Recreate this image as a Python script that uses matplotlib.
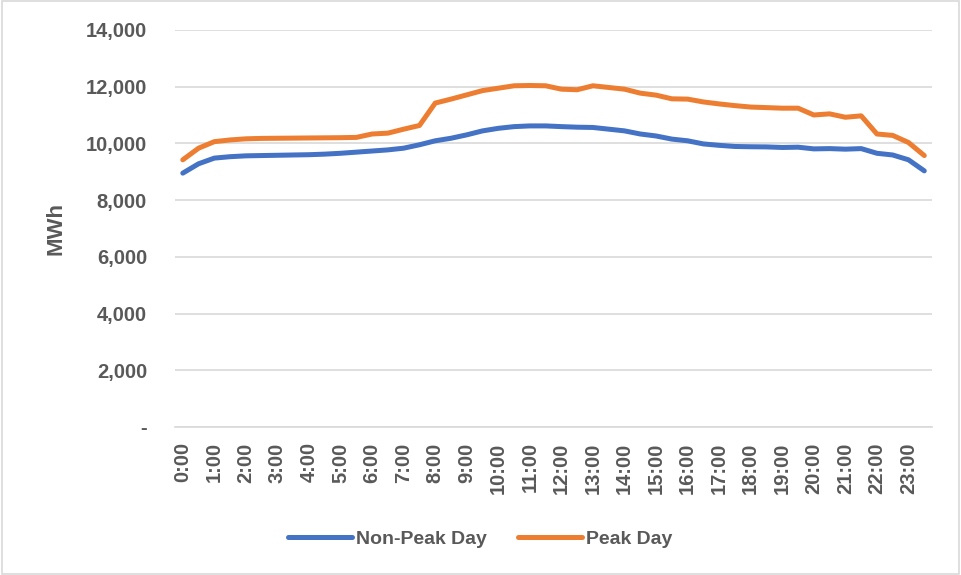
import matplotlib.pyplot as plt
from matplotlib.patches import Rectangle
from matplotlib.ticker import FuncFormatter

# half-hourly load, MWh
times = ["%d:%02d" % (h, m) for h in range(24) for m in (0, 30)]
non_peak = [8950, 9280, 9480, 9530, 9560, 9570, 9580, 9590, 9600, 9620,
            9650, 9690, 9730, 9770, 9830, 9950, 10090, 10180, 10300, 10440,
            10530, 10590, 10615, 10615, 10590, 10570, 10560, 10500, 10440, 10330,
            10260, 10150, 10090, 9980, 9930, 9890, 9880, 9875, 9855, 9865,
            9805, 9815, 9795, 9815, 9650, 9590, 9420, 9030]
peak = [9420, 9830, 10060, 10120, 10160, 10175, 10180, 10185, 10190, 10195,
        10200, 10210, 10330, 10360, 10500, 10630, 11420, 11560, 11710, 11860,
        11945, 12030, 12040, 12030, 11910, 11890, 12030, 11970, 11910, 11770,
        11700, 11570, 11560, 11460, 11390, 11330, 11280, 11260, 11240, 11240,
        11000, 11040, 10920, 10970, 10330, 10280, 10030, 9570]
y_ticks = [0, 2000, 4000, 6000, 8000, 10000, 12000, 14000]

plt.rcParams['font.family'] = ['Liberation Sans', 'DejaVu Sans']
plt.rcParams['font.weight'] = 'bold'
grey = '#595959'

fig = plt.figure(figsize=(9.61, 5.75), dpi=100)
fig.patches.append(Rectangle((0.002, 0.002), 0.996, 0.996, transform=fig.transFigure,
                             fill=False, edgecolor='#D9D9D9', linewidth=1.2))
ax = fig.add_axes([0.182, 0.2574, 0.788, 0.6906])

x = list(range(len(times)))
ax.plot(x, non_peak, color='#4472C4', lw=3.6, solid_capstyle='round',
        solid_joinstyle='round', label='Non-Peak Day')
ax.plot(x, peak, color='#ED7D31', lw=3.6, solid_capstyle='round',
        solid_joinstyle='round', label='Peak Day')

ax.set_xlim(-0.5, len(times) - 0.5)
ax.set_ylim(0, 14000)
ax.set_yticks(y_ticks)
ax.yaxis.set_major_formatter(FuncFormatter(lambda v, p: '-' if v == 0 else '{:,.0f}'.format(v)))
ax.grid(axis='y', color='#D9D9D9', lw=1.2)
ax.set_axisbelow(True)
for s in ['top', 'right', 'left']:
    ax.spines[s].set_visible(False)
ax.spines['bottom'].set_color('#D9D9D9')
ax.spines['bottom'].set_linewidth(1.2)

ax.set_xticks(x[::2])
ax.set_xticklabels(times[::2], rotation=90)
ax.tick_params(axis='both', length=0, labelcolor=grey, labelsize=14.5)
ax.tick_params(axis='y', pad=20)
ax.tick_params(axis='x', pad=11)

ax.set_ylabel('MWh', fontsize=16, fontweight='bold', color=grey, labelpad=14)

leg = fig.legend(loc='center', bbox_to_anchor=(0.5, 0.062), ncol=2, frameon=False,
                 prop={'size': 14, 'weight': 'bold'}, handlelength=3.3,
                 columnspacing=1.6, handletextpad=0.2)
for t in leg.get_texts():
    t.set_color(grey)

fig.savefig('out.png', dpi=100)
